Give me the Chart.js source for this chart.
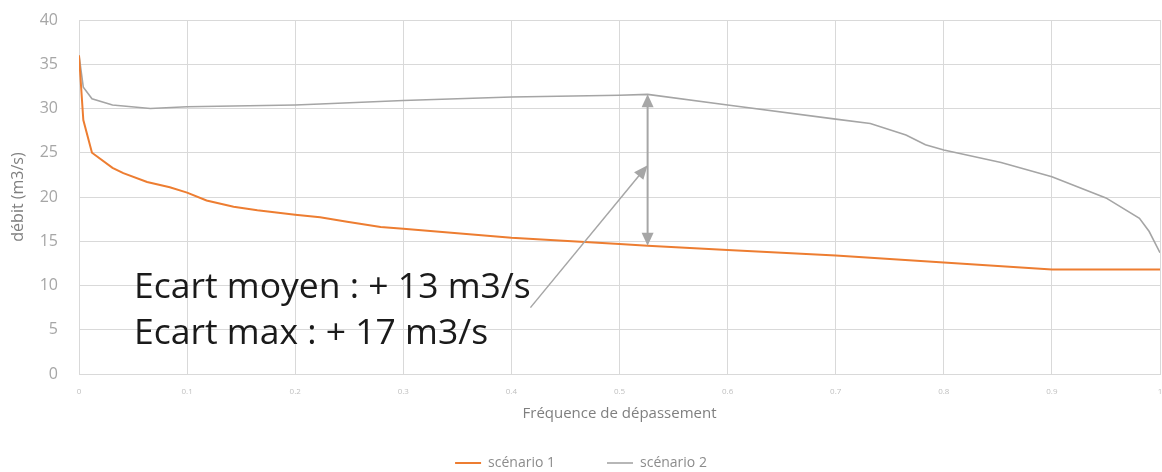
<!DOCTYPE html>
<html><head><meta charset="utf-8">
<script src="https://cdn.jsdelivr.net/npm/chart.js@4.4.0/dist/chart.umd.min.js"></script>
<style>html,body{margin:0;padding:0;background:#fff}#wrap{width:1162px;height:472px}</style>
</head><body><div id="wrap"><canvas id="c" width="1162" height="472"></canvas></div>
<script>
// ---- data ----
const freq1 = [0, 0.004, 0.012, 0.031, 0.041, 0.063, 0.084, 0.1, 0.118, 0.143, 0.165, 0.2, 0.223, 0.248, 0.279, 0.3, 0.4, 0.5, 0.526, 0.6, 0.7, 0.8, 0.9, 1.0];
const scenario1 = [36, 28.7, 25.0, 23.3, 22.7, 21.7, 21.1, 20.5, 19.6, 18.9, 18.5, 18.0, 17.7, 17.2, 16.6, 16.4, 15.4, 14.7, 14.5, 14.0, 13.4, 12.6, 11.8, 11.8];
const freq2 = [0, 0.004, 0.012, 0.031, 0.066, 0.1, 0.2, 0.223, 0.3, 0.4, 0.5, 0.526, 0.6, 0.7, 0.732, 0.765, 0.783, 0.8, 0.853, 0.9, 0.95, 0.981, 0.99, 1.0];
const scenario2 = [36, 32.4, 31.1, 30.4, 30.0, 30.2, 30.4, 30.5, 30.9, 31.3, 31.5, 31.6, 30.4, 28.8, 28.3, 27.0, 25.9, 25.3, 23.9, 22.3, 19.9, 17.6, 16.1, 13.7];
const seriesNames = ['scénario 1', 'scénario 2'];
const xTicks = [0, 0.1, 0.2, 0.3, 0.4, 0.5, 0.6, 0.7, 0.8, 0.9, 1];
const yTicks = [0, 5, 10, 15, 20, 25, 30, 35, 40];
const xTitle = 'Fréquence de dépassement';
const yTitle = 'débit (m3/s)';
const noteLines = ['Ecart moyen : + 13 m3/s', 'Ecart max : + 17 m3/s'];
const gapAt = 0.526, gapTop = 31.6, gapBottom = 14.5;
const pointerFrom = [0.4176, 7.5], pointerTo = [0.526, 23.6];

const pts = (xs, ys) => xs.map((x, i) => ({x: x, y: ys[i]}));

function arrowHead(ctx, tx, ty, fx, fy, len, half) {
  const a = Math.atan2(ty - fy, tx - fx);
  ctx.beginPath();
  ctx.moveTo(tx, ty);
  ctx.lineTo(tx - len * Math.cos(a) + half * Math.sin(a), ty - len * Math.sin(a) - half * Math.cos(a));
  ctx.lineTo(tx - len * Math.cos(a) - half * Math.sin(a), ty - len * Math.sin(a) + half * Math.cos(a));
  ctx.closePath();
  ctx.fill();
}

const annot = {
  id: 'annot',
  afterLayout(chart) {
    chart.legend.top += 8; chart.legend.bottom += 8;
  },
  afterDraw(chart) {
    const ctx = chart.ctx, xs = chart.scales.x, ys = chart.scales.y;
    ctx.save();
    ctx.strokeStyle = '#a6a6a6'; ctx.fillStyle = '#a6a6a6'; ctx.lineWidth = 2;
    const gx = xs.getPixelForValue(gapAt), gt = ys.getPixelForValue(gapTop), gb = ys.getPixelForValue(gapBottom);
    ctx.beginPath(); ctx.moveTo(gx, gt + 10); ctx.lineTo(gx, gb - 10); ctx.stroke();
    arrowHead(ctx, gx, gt, gx, gb, 13, 6);
    arrowHead(ctx, gx, gb, gx, gt, 13, 6);
    const fx = xs.getPixelForValue(pointerFrom[0]), fy = ys.getPixelForValue(pointerFrom[1]);
    const tx = xs.getPixelForValue(pointerTo[0]), ty = ys.getPixelForValue(pointerTo[1]);
    ctx.lineWidth = 1.5;
    ctx.beginPath(); ctx.moveTo(fx, fy); ctx.lineTo(tx - (tx - fx) * 0.06, ty - (ty - fy) * 0.06); ctx.stroke();
    arrowHead(ctx, tx, ty, fx, fy, 14, 6);
    ctx.fillStyle = '#1a1a1a';
    ctx.font = '35.5px "Open Sans"';
    ctx.textBaseline = 'alphabetic';
    ctx.fillText(noteLines[0], 134, 298);
    ctx.fillText(noteLines[1], 134, 344);
    ctx.restore();
  }
};

new Chart(document.getElementById('c'), {
  type: 'scatter',
  data: {
    datasets: [
      {label: seriesNames[0], data: pts(freq1, scenario1), showLine: true, borderColor: '#ED7D31', backgroundColor: '#ED7D31', borderWidth: 2, pointRadius: 0, tension: 0},
      {label: seriesNames[1], data: pts(freq2, scenario2), showLine: true, borderColor: '#A5A5A5', backgroundColor: '#A5A5A5', borderWidth: 1.6, pointRadius: 0, tension: 0}
    ]
  },
  options: {
    responsive: false, animation: false, devicePixelRatio: 1,
    layout: {padding: {left: 0, right: 0, top: 0, bottom: 0}},
    plugins: {
      tooltip: {enabled: false},
      legend: {
        position: 'bottom',
        labels: {usePointStyle: true, pointStyle: 'line', pointStyleWidth: 26, boxHeight: 14, padding: 52, color: '#8c8c8c', font: {family: '"Open Sans"', size: 14}}
      }
    },
    scales: {
      x: {
        type: 'linear', min: 0, max: 1,
        afterBuildTicks: s => { s.ticks = xTicks.map(v => ({value: v})); },
        afterFit: s => { s.height = 22; s.paddingRight = 2; },
        ticks: {color: '#bfbfbf', font: {family: '"Open Sans"', size: 8}, padding: 13, maxRotation: 0, callback: v => String(v)},
        grid: {color: '#d9d9d9', lineWidth: 1, drawTicks: false},
        border: {color: '#d9d9d9'},
        title: {display: true, text: xTitle, color: '#7f7f7f', font: {family: '"Open Sans"', size: 15}, padding: {top: 0, bottom: -27}}
      },
      y: {
        min: 0, max: 40,
        afterBuildTicks: s => { s.ticks = yTicks.map(v => ({value: v})); },
        afterFit: s => { s.width = 79; s.paddingTop = 20; s.paddingBottom = 10; },
        ticks: {color: '#a6a6a6', font: {family: '"Open Sans"', size: 16}, padding: 21},
        grid: {color: '#d9d9d9', lineWidth: 1, drawTicks: false},
        border: {color: '#d9d9d9'},
        title: {display: true, text: yTitle, color: '#7f7f7f', font: {family: '"Open Sans"', size: 16}, padding: {top: 9, bottom: 0}}
      }
    }
  },
  plugins: [annot]
});
</script>
</body></html>
